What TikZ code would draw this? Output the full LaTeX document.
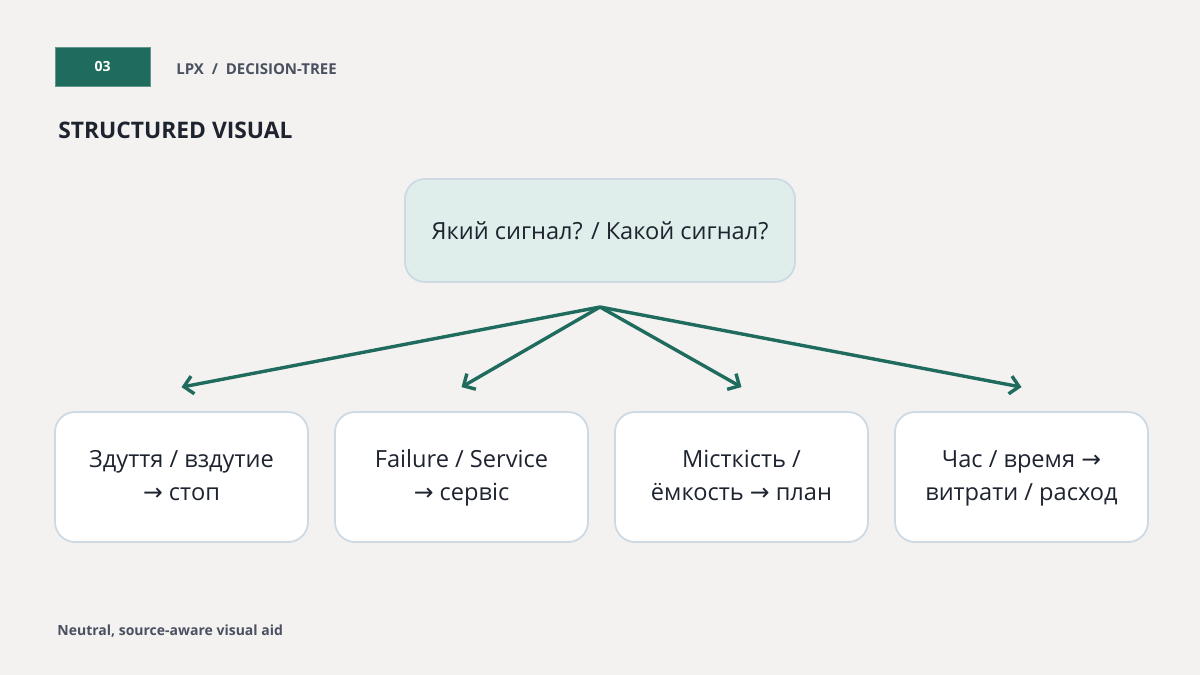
\documentclass[tikz,border=0pt]{standalone}
\usepackage{fontspec}
\setmainfont{Open Sans}
\newfontfamily\symfont{DejaVu Sans}
\newcommand{\arr}{{\symfont →}}
\usetikzlibrary{arrows.meta}
\definecolor{bgpage}{HTML}{F3F2F0}
\definecolor{teal}{HTML}{1F6B5E}
\definecolor{rootfill}{HTML}{DFEEEA}
\definecolor{boxline}{HTML}{CDD9E3}
\definecolor{greytext}{HTML}{4A5060}
\definecolor{darktext}{HTML}{1E2330}
\begin{document}
\begin{tikzpicture}[x=0.5pt,y=-0.5pt,
	card/.style={draw=boxline,line width=0.9pt,fill=white,rounded corners=10pt,
		minimum width=126.5pt,minimum height=65pt,align=center,text=darktext,
		font=\fontsize{11.8}{16.5}\selectfont},
	branch/.style={draw=teal,line width=1.7pt,-{Straight Barb[length=4.5pt,width=9pt,line width=1.7pt]}}]
	\fill[bgpage] (0, 0) rectangle (1200, 675);
	\useasboundingbox (0, 0) rectangle (1200, 675);
	% header
	\node[fill=teal,draw=teal!70,minimum width=47.5pt,minimum height=19.5pt,text=white,
		font=\bfseries\fontsize{7}{8}\selectfont] (tag) at (102.5, 66.5) {03};
	\node[anchor=west,text=greytext,inner sep=0pt,font=\bfseries\fontsize{7.5}{9}\selectfont]
		(crumb) at (176, 69) {LPX\ \ /\ \ DECISION-TREE};
	\node[anchor=west,text=darktext,inner sep=0pt,font=\bfseries\fontsize{11.4}{13}\selectfont]
		(title) at (58, 130) {STRUCTURED VISUAL};
	% tree
	\node[card,fill=rootfill,minimum width=195pt,minimum height=51.5pt] (root) at (600, 230.5)
		{Який сигнал? / Какой сигнал?};
	\node[card] (swell) at (181.5, 477) {Здуття / вздутие\strut\\\arr\ стоп\strut};
	\node[card] (fail) at (461.5, 477) {Failure / Service\strut\\\arr\ сервіс\strut};
	\node[card] (cap) at (741.5, 477) {Місткість /\strut\\ёмкость \arr\ план\strut};
	\node[card] (time) at (1021.5, 477) {Час / время \arr\strut\\витрати / расход\strut};
	\coordinate (hub) at (600, 307);
	\foreach \leaf in {swell, fail, cap, time}
		\draw[branch] (hub) -- ([yshift=12pt]\leaf.north);
	% footer
	\node[anchor=west,text=greytext,inner sep=0pt,font=\bfseries\fontsize{7}{8}\selectfont]
		(foot) at (57, 631) {Neutral, source-aware visual aid};
\end{tikzpicture}
\end{document}
